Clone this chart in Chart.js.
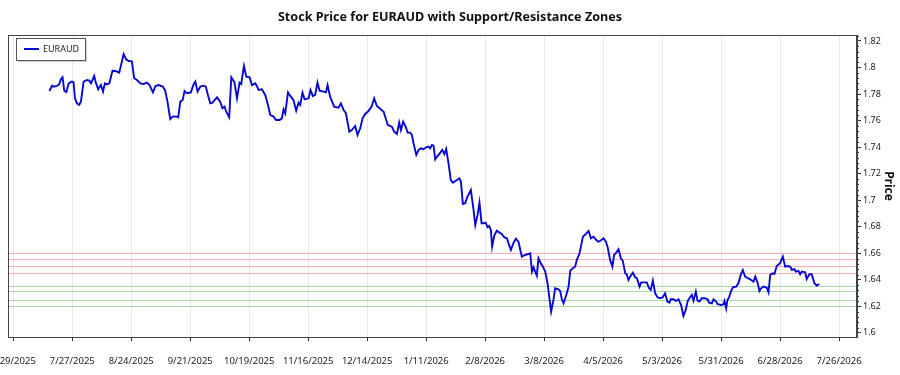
<!DOCTYPE html>
<html><head><meta charset="utf-8">
<script src="https://cdn.jsdelivr.net/npm/chart.js@4.4.1/dist/chart.umd.min.js"></script>
<style>html,body{margin:0;padding:0;background:#fff;overflow:hidden}#wrap{width:900px;height:375px}</style>
</head><body><div id="wrap"><canvas id="c" width="900" height="375"></canvas></div>
<script>
// x values are days counted from 6/29/2025
const seriesName = 'EURAUD';
const chartTitle = 'Stock Price for EURAUD with Support/Resistance Zones';
const axisTitle = 'Price';
const days = [17.2,18.4,19.1,20.7,21.8,22.6,23.4,24.2,25.2,26.3,27.8,28.6,29.3,30.2,31.3,32.1,33.4,35.0,36.1,36.9,38.4,39.2,40.3,41.6,42.6,43.5,44.5,45.6,47.1,48.4,50.3,52.4,53.6,54.7,56.3,57.4,58.7,60.3,61.9,63.4,64.7,66.3,67.5,69.0,71.0,72.1,73.2,74.5,75.8,77.7,78.3,79.3,80.4,81.3,82.4,84.3,85.6,86.4,87.5,88.8,90.3,91.4,92.4,93.5,94.6,95.6,96.7,98.2,99.3,100.3,101.1,102.5,103.5,105.0,106.2,
107.4,108.2,109.5,110.6,112.2,113.3,114.9,115.6,116.4,118.0,119.6,120.9,122.0,123.6,124.7,126.4,127.5,128.3,129.1,130.4,131.5,133.0,134.3,135.4,136.2,137.3,138.3,140.2,141.1,142.2,143.3,144.4,145.4,147.3,148.4,149.2,150.4,152.3,154.4,155.5,156.8,157.9,159.5,160.7,162.3,163.4,164.7,165.8,167.1,168.6,170.2,171.3,172.6,173.9,175.8,177.0,177.8,179.7,180.8,182.1,183.2,184.0,185.1,186.4,187.2,188.4,189.2,190.0,191.3,192.4,193.5,194.7,196.0,
197.1,197.9,198.7,199.5,200.3,201.4,202.7,203.6,204.6,205.5,206.6,207.7,208.7,210.6,211.7,212.5,213.4,214.5,215.6,217.2,218.5,219.3,220.4,221.3,222.3,223.5,224.3,225.1,225.9,226.7,227.3,228.3,229.5,230.8,231.9,233.0,234.3,235.1,236.2,237.5,238.6,239.8,240.6,241.4,243.0,244.6,245.4,246.2,247.0,247.7,248.5,249.3,250.4,251.4,252.5,253.6,255.3,256.4,257.2,258.8,259.6,260.4,261.2,262.5,263.6,264.4,265.6,266.7,267.5,268.8,269.6,270.4,271.8,273.1,274.2,275.4,276.5,277.5,278.6,280.2,281.3,282.1,283.3,284.4,
285.2,286.2,287.3,288.4,289.3,290.5,291.2,292.0,292.8,294.1,295.2,296.0,297.3,298.0,299.2,300.7,301.8,302.6,303.6,304.7,305.8,307.1,308.3,309.4,310.5,311.5,312.1,313.4,314.5,315.8,317.0,318.1,319.2,320.2,321.3,322.1,322.9,324.0,324.8,325.7,326.8,328.4,329.5,330.3,331.6,332.4,333.6,334.4,336.0,337.1,337.6,338.4,339.0,339.8,340.6,341.6,343.1,344.2,345.3,346.3,347.4,348.7,349.8,351.4,352.2,353.3,354.2,355.0,356.1,356.9,357.7,358.5,359.3,360.4,361.3,362.4,364.0,365.3,366.4,367.5,368.8,369.6,370.7,371.5,372.7,373.5,374.3,375.9,376.6,377.9,379.0,380.3,381.4,382.6];
const prices = [1.7823,1.7863,1.7856,1.7861,1.7873,1.7911,1.7926,1.7826,1.7816,1.7881,1.7894,1.7889,1.7768,1.7730,1.7718,1.7743,1.7894,1.7906,1.7901,1.7881,1.7936,1.7886,1.7836,1.7868,1.7818,1.7881,1.7873,1.7881,1.7976,1.7974,1.7961,1.8102,1.8062,1.8049,1.8047,1.7919,1.7906,1.7881,1.7876,1.7886,1.7868,1.7813,1.7861,1.7868,1.7856,1.7826,1.7743,1.7612,1.7632,1.7630,1.7625,1.7743,1.7755,1.7823,1.7806,1.7813,1.7873,1.7894,1.7818,1.7856,1.7863,1.7856,1.7793,1.7730,1.7735,1.7755,1.7775,1.7743,1.7693,1.7705,1.7667,1.7625,1.7926,1.7889,1.7768,
1.7886,1.7876,1.8012,1.7931,1.7926,1.7868,1.7881,1.7861,1.7831,1.7836,1.7793,1.7718,1.7642,1.7630,1.7605,1.7605,1.7617,1.7685,1.7655,1.7813,1.7786,1.7755,1.7675,1.7735,1.7718,1.7811,1.7760,1.7768,1.7831,1.7786,1.7793,1.7886,1.7826,1.7818,1.7813,1.7868,1.7780,1.7705,1.7698,1.7730,1.7680,1.7655,1.7517,1.7529,1.7559,1.7492,1.7542,1.7617,1.7650,1.7672,1.7710,1.7768,1.7710,1.7693,1.7667,1.7605,1.7567,1.7554,1.7517,1.7499,1.7585,1.7529,1.7592,1.7549,1.7509,1.7509,1.7492,1.7429,1.7341,1.7379,1.7391,1.7384,1.7399,
1.7404,1.7391,1.7416,1.7411,1.7308,1.7333,1.7358,1.7379,1.7348,1.7386,1.7278,1.7152,1.7132,1.7152,1.7165,1.7140,1.6972,1.6977,1.7027,1.7077,1.6926,1.6813,1.6889,1.6982,1.6826,1.6826,1.6831,1.6796,1.6806,1.6776,1.6650,1.6731,1.6771,1.6756,1.6746,1.6721,1.6713,1.6675,1.6625,1.6680,1.6710,1.6688,1.6630,1.6575,1.6587,1.6595,1.6600,1.6462,1.6494,1.6462,1.6432,1.6562,1.6525,1.6499,1.6462,1.6374,1.6160,1.6248,1.6336,1.6329,1.6316,1.6253,1.6223,1.6286,1.6349,1.6469,1.6487,1.6499,1.6550,1.6600,1.6663,1.6725,1.6746,1.6768,1.6713,1.6725,1.6705,1.6688,1.6693,1.6713,1.6688,1.6650,1.6550,1.6499,
1.6587,1.6605,1.6630,1.6562,1.6545,1.6449,1.6442,1.6399,1.6424,1.6454,1.6419,1.6412,1.6349,1.6379,1.6381,1.6381,1.6336,1.6324,1.6394,1.6298,1.6268,1.6261,1.6268,1.6298,1.6236,1.6228,1.6253,1.6253,1.6241,1.6253,1.6210,1.6128,1.6173,1.6243,1.6268,1.6286,1.6243,1.6311,1.6243,1.6236,1.6261,1.6261,1.6253,1.6228,1.6223,1.6253,1.6236,1.6216,1.6210,1.6216,1.6241,1.6185,1.6248,1.6268,1.6311,1.6344,1.6349,1.6374,1.6437,1.6474,1.6424,1.6412,1.6404,1.6386,1.6424,1.6379,1.6316,1.6336,1.6349,1.6344,1.6341,1.6306,1.6437,1.6449,1.6444,1.6504,1.6525,1.6575,1.6499,1.6504,1.6499,1.6474,1.6482,1.6462,1.6467,1.6442,1.6462,1.6457,1.6406,1.6442,1.6442,1.6374,1.6356,1.6369];
const xTickDays = [0,28,56,84,112,140,168,196,224,252,280,308,336,364,392];
const xTickLabels = ['6/29/2025','7/27/2025','8/24/2025','9/21/2025','10/19/2025','11/16/2025','12/14/2025','1/11/2026','2/8/2026','3/8/2026','4/5/2026','5/3/2026','5/31/2026','6/28/2026','7/26/2026'];
const yTickValues = [1.6,1.62,1.64,1.66,1.68,1.7,1.72,1.74,1.76,1.78,1.8,1.82];
const resistanceLevels = [1.6602,1.6555,1.6505,1.6453];
const supportLevels = [1.6353,1.6312,1.6248,1.6202];

const FONT = "'Noto Sans', 'Open Sans', sans-serif";

const zonesPlugin = {
  id: 'zones',
  beforeDatasetsDraw(chart) {
    const {ctx, chartArea: a, scales: {y}} = chart;
    ctx.save();
    ctx.lineWidth = 1;
    const draw = (v, c) => {
      const py = Math.round(y.getPixelForValue(v)) + 0.5;
      ctx.strokeStyle = c;
      ctx.beginPath(); ctx.moveTo(a.left, py); ctx.lineTo(a.right, py); ctx.stroke();
    };
    resistanceLevels.forEach(v => draw(v, 'rgba(240,80,80,0.45)'));
    supportLevels.forEach(v => draw(v, 'rgba(60,170,60,0.45)'));
    ctx.restore();
  }
};

const framePlugin = {
  id: 'frame',
  afterDraw(chart) {
    const {ctx, chartArea: a, scales: {y}} = chart;
    ctx.save();
    ctx.strokeStyle = '#444';
    ctx.lineWidth = 1;
    ctx.strokeRect(Math.round(a.left) + 0.5, Math.round(a.top) + 0.5, Math.round(a.right - a.left) - 1, Math.round(a.bottom - a.top));
    // minor ticks on the price axis
    ctx.strokeStyle = '#333';
    ctx.beginPath();
    for (let i = 0; i < yTickValues.length; i++) {
      for (let k = 1; k < 5; k++) {
        const v = yTickValues[i] + k * 0.004;
        if (v > y.max) break;
        const py = Math.round(y.getPixelForValue(v)) + 0.5;
        ctx.moveTo(a.right, py); ctx.lineTo(a.right + 2, py);
      }
    }
    ctx.stroke();
    // legend
    const bx = 16, by = 38, bw = 69, bh = 22;
    ctx.fillStyle = 'rgba(0,0,0,0.18)';
    ctx.fillRect(bx + 2, by + 2, bw, bh);
    ctx.fillStyle = '#fff';
    ctx.fillRect(bx, by, bw, bh);
    ctx.strokeStyle = '#555';
    ctx.strokeRect(bx + 0.5, by + 0.5, bw, bh);
    ctx.strokeStyle = chart.data.datasets[0].borderColor;
    ctx.lineWidth = 2;
    ctx.beginPath(); ctx.moveTo(24, by + 11); ctx.lineTo(39, by + 11); ctx.stroke();
    ctx.fillStyle = '#222';
    ctx.font = "9px " + FONT;
    ctx.textBaseline = 'middle';
    ctx.textAlign = 'left';
    ctx.fillText(seriesName, 43, by + 11.5);
    ctx.restore();
  }
};

new Chart(document.getElementById('c'), {
  type: 'line',
  data: {
    datasets: [{
      label: seriesName,
      data: days.map((d, i) => ({x: d, y: prices[i]})),
      borderColor: '#0808d4',
      borderWidth: 1.9,
      pointRadius: 0,
      tension: 0,
      fill: false
    }]
  },
  options: {
    responsive: false,
    animation: false,
    devicePixelRatio: 1,
    layout: {padding: 0},
    plugins: {
      legend: {display: false},
      tooltip: {enabled: false},
      title: {display: true, text: chartTitle, color: '#111', font: {family: FONT, size: 12.6, weight: 'bold'}, padding: {top: 9.6, bottom: 10.3}}
    },
    scales: {
      x: {
        type: 'linear', position: 'bottom', min: -2.5, max: 400.5,
        afterBuildTicks: s => { s.ticks = xTickDays.map(v => ({value: v})); },
        ticks: {callback: v => { const i = xTickDays.indexOf(v); return i >= 0 ? xTickLabels[i] : ''; }, autoSkip: false, maxRotation: 0, padding: 15, color: '#222', font: {family: FONT, size: 9.5}},
        grid: {color: '#e9e9e9', tickColor: '#333', tickLength: 4, drawOnChartArea: true},
        border: {display: true, color: '#444'},
        afterFit: s => { s.height = 38; s.paddingLeft = 8; s.paddingRight = 0; }
      },
      y: {
        type: 'linear', position: 'right', min: 1.5969, max: 1.8245,
        afterBuildTicks: s => { s.ticks = yTickValues.map(v => ({value: v})); },
        ticks: {callback: v => String(+Number(v).toFixed(2)), padding: 2, color: '#222', font: {family: FONT, size: 9}},
        grid: {drawOnChartArea: false, tickColor: '#333', tickLength: 4},
        border: {display: true, color: '#444'},
        title: {display: true, text: axisTitle, color: '#111', font: {family: FONT, size: 12, weight: 'bold'}, padding: {top: 4, bottom: 0}},
        afterFit: s => { s.width = 43; s.paddingTop = 0; s.paddingBottom = 0; }
      }
    }
  },
  plugins: [zonesPlugin, framePlugin]
});
</script>
</body></html>
